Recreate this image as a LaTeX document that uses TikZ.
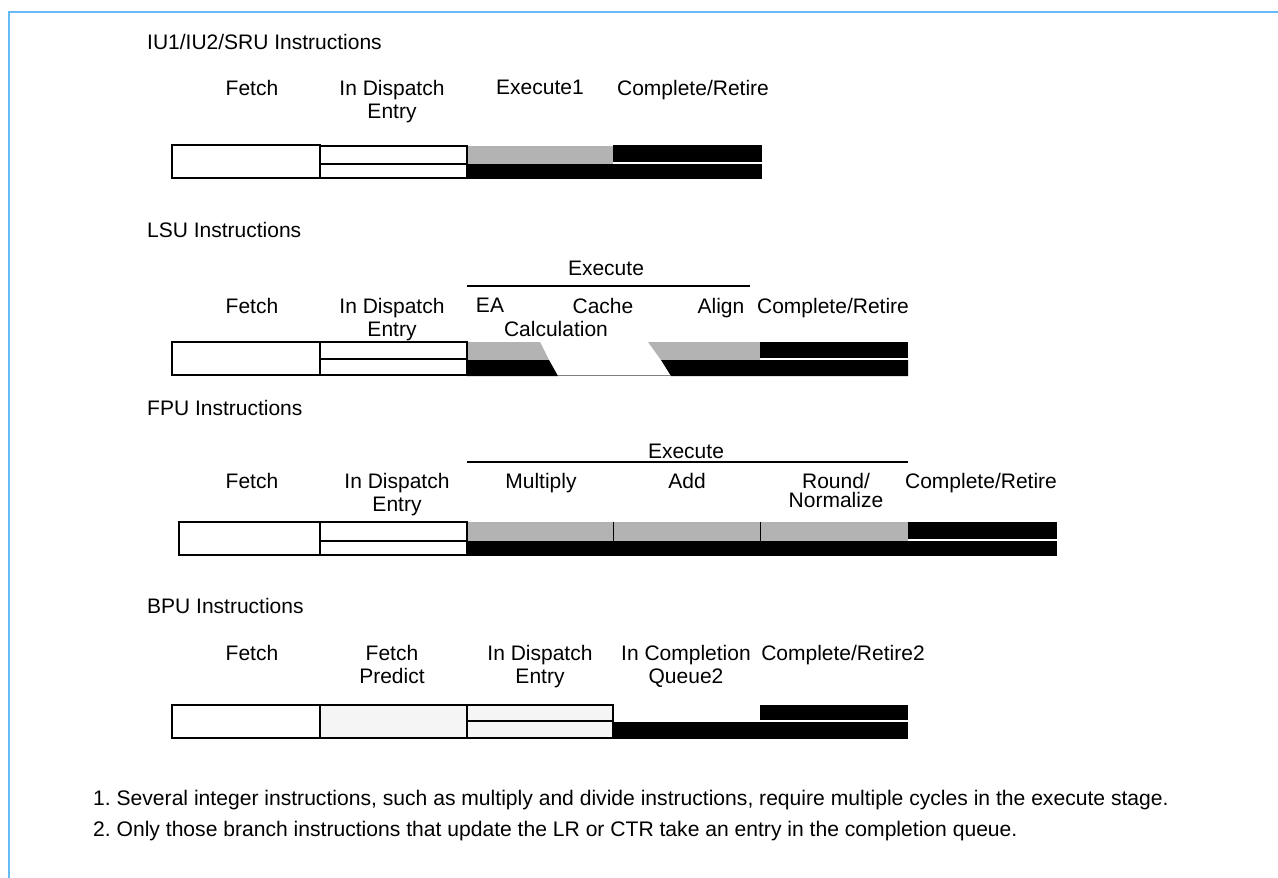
\documentclass[tikz,border=0pt]{standalone}
\usepackage{fontspec}
\setmainfont{Liberation Sans}
\frenchspacing
\definecolor{frameblue}{RGB}{102,187,246}
\definecolor{cellgray}{RGB}{179,179,179}
\definecolor{lightcell}{RGB}{245,245,245}
\begin{document}
\begin{tikzpicture}[x=1pt,y=-1pt,
  lbl/.style={font=\fontsize{21}{23}\selectfont, align=center, inner sep=0pt, anchor=north},
  ttl/.style={font=\fontsize{21}{23}\selectfont, inner sep=0pt, anchor=north west},
  note/.style={font=\fontsize{21.1}{23}\selectfont, inner sep=0pt, anchor=north west},
  box/.style={draw=black, line width=2pt},
  sep/.style={draw=black, line width=1.6pt},
  blk/.style={fill=black},
  gry/.style={fill=cellgray}]
\useasboundingbox (0,0) rectangle (1278,878);
\draw[frameblue, line width=2pt] (9,878) -- (9,12) -- (1278,12);

% ---------- Section 1
\node[ttl] (t1) at (147,34) {IU1/IU2/SRU Instructions};
\node[lbl] (a1) at (252,80) {Fetch};
\node[lbl] (a2) at (392,80) {In Dispatch\\Entry};
\node[lbl] (a3) at (540,80) {Execute1};
\node[lbl] (a4) at (693,80) {Complete/Retire};
\fill[gry] (467,146) rectangle (613,164);
\fill[blk] (467,164) rectangle (762,179);
\fill[blk] (613,145) rectangle (762,162);
\draw[box, line width=2.6pt] (172,145) rectangle (320,178);
\draw[box] (320,146) rectangle (467,178);
\draw[sep] (320,164) -- (467,164);

% ---------- Section 2
\node[ttl] (t2) at (147,222) {LSU Instructions};
\node[lbl] (e2) at (606,261) {Execute};
\draw[line width=1.6pt] (467,286) -- (750,286);
\node[lbl] (b1) at (252,298) {Fetch};
\node[lbl] (b2) at (392,298) {In Dispatch\\Entry};
\node[lbl] (b3) at (490,298) {EA};
\node[lbl] (b3b) at (556,321) {Calculation};
\node[lbl] (b4) at (603,298) {Cache};
\node[lbl] (b5) at (721,298) {Align};
\node[lbl] (b6) at (833,298) {Complete/Retire};
\fill[gry] (467,342) -- (540,342) -- (549,360) -- (467,360) -- cycle;
\fill[blk] (467,360) -- (549,360) -- (558,376) -- (467,376) -- cycle;
\fill[gry] (648,342) -- (760,342) -- (760,360) -- (661,360) -- cycle;
\fill[blk] (661,360) -- (908,360) -- (908,376) -- (671,376) -- cycle;
\fill[blk] (760,342) rectangle (908,358);
\draw[gray, line width=1pt] (558,375.5) -- (671,375.5);
\draw[box] (172,342) rectangle (320,375);
\draw[box] (320,342) rectangle (467,375);
\draw[sep] (320,359) -- (467,359);

% ---------- Section 3
\node[ttl] (t3) at (147,400) {FPU Instructions};
\node[lbl] (e3) at (686,444) {Execute};
\draw[line width=1.6pt] (467,462) -- (908,462);
\node[lbl] (c1) at (252,473) {Fetch};
\node[lbl] (c2) at (397,473) {In Dispatch\\Entry};
\node[lbl] (c3) at (541,473) {Multiply};
\node[lbl] (c4) at (687,473) {Add};
\node[lbl, font=\fontsize{21}{19}\selectfont] (c5) at (836,473) {Round/\\Normalize};
\node[lbl] (c6) at (981,473) {Complete/Retire};
\fill[gry] (467,522) rectangle (908,541);
\fill[blk] (467,541) rectangle (1057,556);
\fill[blk] (908,522) rectangle (1057,539);
\draw[black, line width=1pt] (613.5,522) -- (613.5,541) (760.5,522) -- (760.5,541);
\draw[box] (179,522) rectangle (320,555);
\draw[box] (320,522) rectangle (467,555);
\draw[sep] (320,541) -- (467,541);

% ---------- Section 4
\node[ttl] (t4) at (147,598) {BPU Instructions};
\node[lbl] (d1) at (252,645) {Fetch};
\node[lbl] (d2) at (392,645) {Fetch\\Predict};
\node[lbl] (d3) at (540,645) {In Dispatch\\Entry};
\node[lbl] (d4) at (686,645) {In Completion\\Queue2};
\node[lbl] (d5) at (843,645) {Complete/Retire2};
\fill[blk] (613,722) rectangle (908,739);
\fill[blk] (760,705) rectangle (908,719.5);
\draw[box] (172,705) rectangle (320,738);
\draw[box, fill=lightcell] (320,705) rectangle (467,738);
\draw[box, fill=lightcell] (467,705) rectangle (613,738);
\draw[sep] (467,721) -- (613,721);

% ---------- Notes
\node[note] (n1) at (93,790) {1. Several integer instructions, such as multiply and divide instructions, require multiple cycles in the execute stage.};
\node[note] (n2) at (93,821) {2. Only those branch instructions that update the LR or CTR take an entry in the completion queue.};
\end{tikzpicture}
\end{document}
